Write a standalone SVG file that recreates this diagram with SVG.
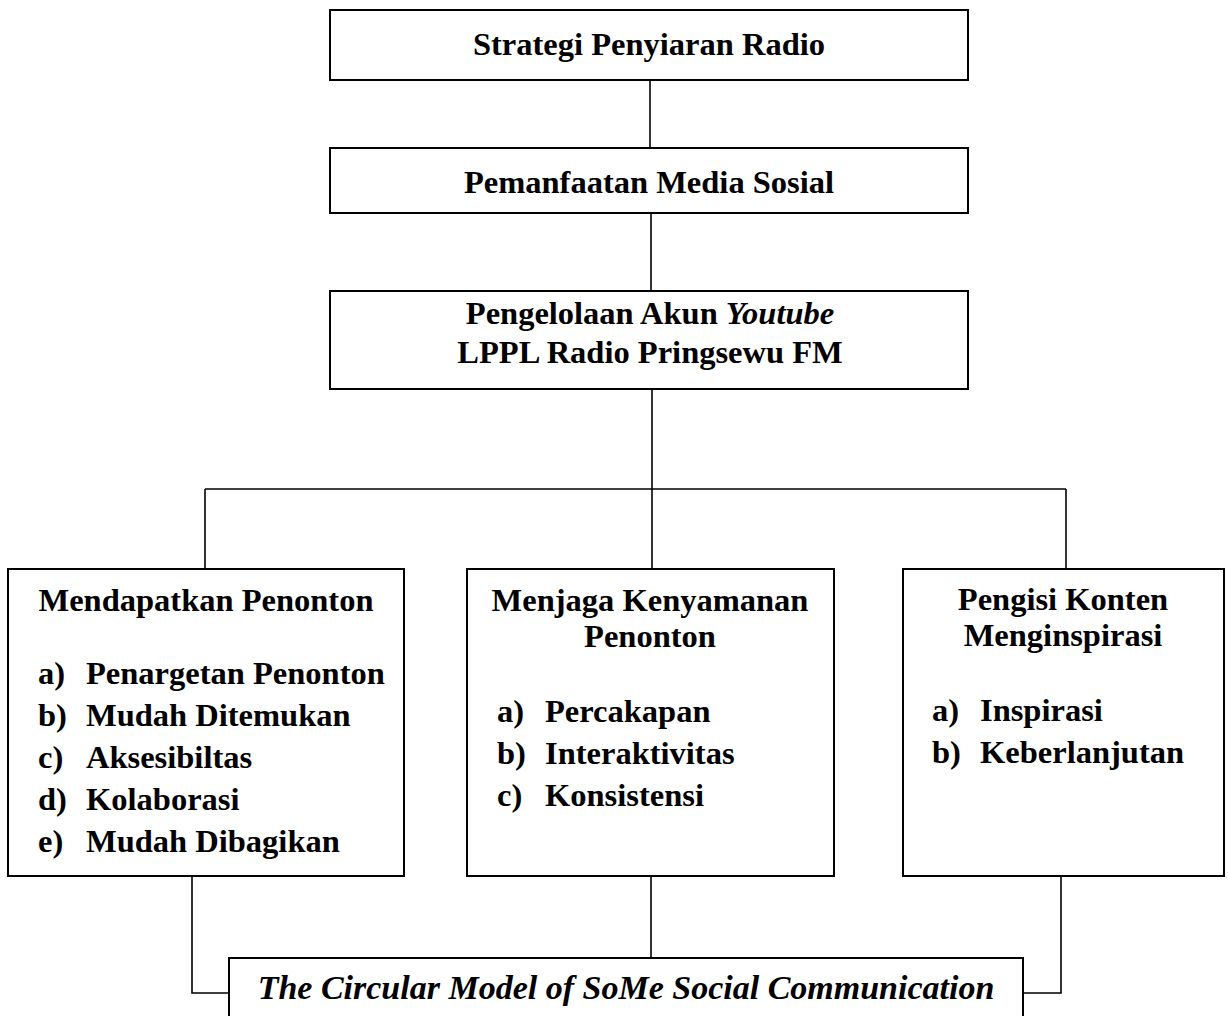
<svg xmlns="http://www.w3.org/2000/svg" width="1228" height="1016" viewBox="0 0 1228 1016">
<style>
.box{fill:#fff;stroke:#000;stroke-width:2}
.ln{fill:none;stroke:#000;stroke-width:1.6}
text{font-family:"Liberation Serif","Times New Roman",serif;font-weight:bold;font-size:32.5px;fill:#000}
.c{text-anchor:middle}
.i{font-style:italic}
.big{font-size:34px}
</style>
<rect width="1228" height="1016" fill="#fff"/>
<g id="connectors">
<path class="ln" d="M650 80V150"/>
<path class="ln" d="M651 210V292"/>
<path class="ln" d="M652 389V569"/>
<path class="ln" d="M205 489H1066"/>
<path class="ln" d="M205 489V569"/>
<path class="ln" d="M1066 489V569"/>
<path class="ln" d="M192 876V993H229"/>
<path class="ln" d="M651 876V958"/>
<path class="ln" d="M1061 876V993H1023"/>
</g>
<g id="n1">
<rect class="box" x="330" y="10" width="638" height="70"/>
<text class="c" x="649" y="55">Strategi Penyiaran Radio</text>
</g>
<g id="n2">
<rect class="box" x="330" y="148" width="638" height="65"/>
<text class="c" x="649" y="193">Pemanfaatan Media Sosial</text>
</g>
<g id="n3">
<rect class="box" x="330" y="291" width="638" height="98"/>
<text class="c" x="650" y="324">Pengelolaan Akun <tspan class="i">Youtube</tspan></text>
<text class="c" x="650" y="363">LPPL Radio Pringsewu FM</text>
</g>
<g id="n4">
<rect class="box" x="8" y="569" width="396" height="307"/>
<text class="c" x="206" y="611">Mendapatkan Penonton</text>
<text x="38" y="684">a)</text><text x="86" y="684">Penargetan Penonton</text>
<text x="38" y="726">b)</text><text x="86" y="726">Mudah Ditemukan</text>
<text x="38" y="768">c)</text><text x="86" y="768">Aksesibiltas</text>
<text x="38" y="810">d)</text><text x="86" y="810">Kolaborasi</text>
<text x="38" y="852">e)</text><text x="86" y="852">Mudah Dibagikan</text>
</g>
<g id="n5">
<rect class="box" x="467" y="569" width="367" height="307"/>
<text class="c" x="650" y="611">Menjaga Kenyamanan</text>
<text class="c" x="650" y="647">Penonton</text>
<text x="497" y="722">a)</text><text x="545" y="722">Percakapan</text>
<text x="497" y="764">b)</text><text x="545" y="764">Interaktivitas</text>
<text x="497" y="806">c)</text><text x="545" y="806">Konsistensi</text>
</g>
<g id="n6">
<rect class="box" x="903" y="569" width="321" height="307"/>
<text class="c" x="1063" y="610">Pengisi Konten</text>
<text class="c" x="1063" y="646">Menginspirasi</text>
<text x="932" y="721">a)</text><text x="980" y="721">Inspirasi</text>
<text x="932" y="763">b)</text><text x="980" y="763">Keberlanjutan</text>
</g>
<g id="n7">
<rect class="box" x="229" y="958" width="794" height="80"/>
<text class="c i big" x="626" y="999">The Circular Model of SoMe Social Communication</text>
</g>
</svg>
